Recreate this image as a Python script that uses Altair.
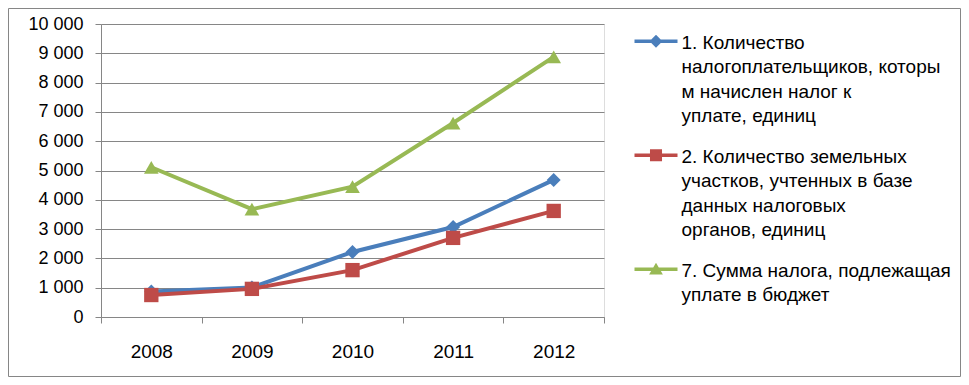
import altair as alt
import pandas as pd

years = ["2008", "2009", "2010", "2011", "2012"]
series_names = [
    "1. Количество|налогоплательщиков, которы|м начислен налог к|уплате, единиц",
    "2. Количество земельных|участков, учтенных в базе|данных налоговых|органов, единиц",
    "7. Сумма налога, подлежащая|уплате в бюджет",
]
taxpayers = [870, 1010, 2220, 3070, 4680]
land_plots = [750, 960, 1600, 2700, 3620]
tax_sum = [5110, 3680, 4450, 6620, 8880]

colors = ["#4A7EBB", "#BE4B48", "#98B954"]
shapes = ["diamond", "square", "triangle-up"]
sizes = [196, 215, 230]
y_ticks = list(range(0, 10001, 1000))

rows = []
for name, vals in zip(series_names, [taxpayers, land_plots, tax_sum]):
    for yr, v in zip(years, vals):
        rows.append({"year": yr, "value": v, "series": name})
df = pd.DataFrame(rows)

FONT = "Liberation Sans"
W, H = 503, 293

# legend glyphs: line with marker, shifted down to sit on the first label line
dy = 0.36
def seg():
    return f"M-1,{dy-0.085:.3f}H1V{dy+0.085:.3f}H-1Z"
legend_paths = [
    seg() + f" M0,{dy-0.3:.3f}L0.3,{dy:.3f}L0,{dy+0.3:.3f}L-0.3,{dy:.3f}Z",
    seg() + f" M-0.28,{dy-0.28:.3f}H0.28V{dy+0.28:.3f}H-0.28Z",
    seg() + f" M0,{dy-0.3:.3f}L0.32,{dy+0.24:.3f}H-0.32Z",
]

x_enc = alt.X(
    "year:N",
    scale=alt.Scale(type="band", domain=years, paddingInner=0, paddingOuter=0),
    axis=alt.Axis(
        title=None, tickBand="extent", grid=False, labelAngle=0,
        labelFont=FONT, labelFontSize=19, labelColor="#000000", labelPadding=19,
        domainColor="#868686", tickColor="#868686", tickSize=6,
    ),
)
y_enc = alt.Y(
    "value:Q",
    scale=alt.Scale(domain=[0, 10000], nice=False),
    axis=alt.Axis(
        title=None, values=y_ticks,
        labelExpr="replace(format(datum.value, ','), ',', ' ')",
        labelFont=FONT, labelFontSize=18, labelColor="#000000", labelPadding=12,
        domainColor="#868686", tickColor="#868686", tickSize=6,
        gridColor="#868686", gridWidth=1,
    ),
)

legend = alt.Legend(
    title=None, orient="none", legendX=533.5, legendY=-12,
    labelExpr="split(datum.label, '|')",
    labelFont=FONT, labelFontSize=19, labelColor="#000000",
    labelLimit=0, labelOffset=4, labelBaseline="top",
    symbolSize=1849, symbolStrokeWidth=0, symbolOpacity=1,
    rowPadding=-3, padding=0,
)

lines = alt.Chart(df).mark_line(strokeWidth=4).encode(
    x=x_enc,
    y=y_enc,
    color=alt.Color("series:N", scale=alt.Scale(domain=series_names, range=colors), legend=None),
)

legend_layer = alt.Chart(df).mark_point(filled=True, opacity=0).encode(
    x=x_enc,
    y=y_enc,
    color=alt.Color("series:N", scale=alt.Scale(domain=series_names, range=colors), legend=legend),
    shape=alt.Shape("series:N", scale=alt.Scale(domain=series_names, range=legend_paths), legend=legend),
)

points = alt.Chart(df).mark_point(filled=True, opacity=1).encode(
    x=x_enc,
    y=y_enc,
    color=alt.Color("series:N", scale=alt.Scale(domain=series_names, range=colors), legend=None),
    shape=alt.Shape("series:N", scale=alt.Scale(domain=series_names, range=shapes), legend=None),
    size=alt.Size("series:N", scale=alt.Scale(domain=series_names, range=sizes), legend=None),
)

frame = alt.Chart(pd.DataFrame({"a": [0]})).mark_rect(
    fill=None, stroke="#868686", strokeWidth=1
).encode(
    x=alt.value(-92.5), x2=alt.value(W + 356.5),
    y=alt.value(-15.5), y2=alt.value(H + 59.5),
)

chart = alt.layer(frame, lines, legend_layer, points).resolve_scale(
    shape="independent", color="independent"
).properties(
    width=W, height=H,
    autosize=alt.AutoSizeParams(type="none"),
    padding={"left": 93, "top": 16, "right": 357, "bottom": 60},
).configure_view(stroke=None).configure(
    background="#ffffff",
    style={"guide-label": {"lineHeight": 24.5}},
)

chart.save("out.html", embed_options={"renderer": "svg", "actions": False})
